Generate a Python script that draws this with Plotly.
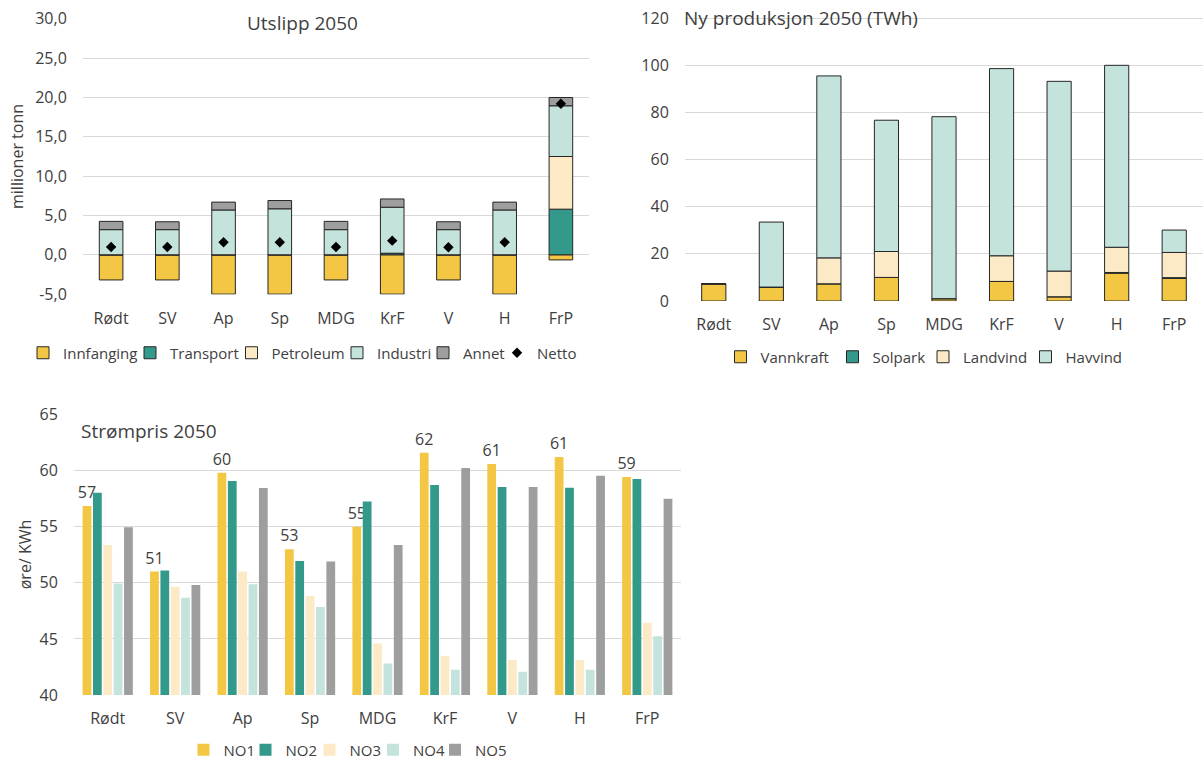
import numpy as np
import plotly.graph_objects as go

PARTIES = ["Rødt", "SV", "Ap", "Sp", "MDG", "KrF", "V", "H", "FrP"]

# --- Utslipp 2050 (millioner tonn)
INNFANGING = [-3.2, -3.2, -5.0, -5.0, -3.2, -5.0, -3.2, -5.0, -0.65]
TRANSPORT = [0, 0, 0, 0, 0, 0.2, 0, 0, 5.8]
PETROLEUM = [0, 0, 0, 0, 0, 0, 0, 0, 6.7]
INDUSTRI = [3.2, 3.2, 5.7, 5.85, 3.2, 5.85, 3.2, 5.7, 6.45]
ANNET = [1.05, 1.0, 1.0, 1.05, 1.05, 1.05, 1.0, 1.0, 1.05]
NETTO = [1.0, 1.0, 1.6, 1.6, 1.0, 1.8, 0.95, 1.6, 19.2]
Y1_TICKS = [-5, 0, 5, 10, 15, 20, 25, 30]
Y1_TICKTEXT = ["-5,0", "0,0", "5,0", "10,0", "15,0", "20,0", "25,0", "30,0"]

# --- Ny produksjon 2050 (TWh)
VANNKRAFT = [7.3, 5.9, 7.3, 10.0, 1.0, 8.3, 1.8, 11.8, 9.6]
SOLPARK = [0, 0, 0, 0, 0, 0, 0, 0.3, 0.3]
LANDVIND = [0, 0, 11.0, 11.0, 0, 10.9, 10.9, 10.7, 10.7]
HAVVIND = [0, 27.6, 77.2, 55.7, 77.2, 79.4, 80.5, 77.2, 9.5]
Y2_TICKS = [0, 20, 40, 60, 80, 100, 120]

# --- Strømpris 2050 (øre/KWh)
NO1 = [56.85, 51.0, 59.82, 53.0, 55.0, 61.6, 60.6, 61.22, 59.43]
NO2 = [58.04, 51.1, 59.08, 51.95, 57.24, 58.72, 58.54, 58.48, 59.26]
NO3 = [53.37, 49.66, 51.0, 48.83, 44.58, 43.48, 43.12, 43.12, 46.45]
NO4 = [49.93, 48.68, 49.87, 47.85, 42.8, 42.26, 42.08, 42.26, 45.23]
NO5 = [54.95, 49.8, 58.45, 51.9, 53.37, 60.24, 58.54, 59.55, 57.5]
Y3_TICKS = [40, 45, 50, 55, 60, 65]

W, H = 1203, 760
FONT = "Open Sans"
TXT = "#404040"
GRID = "#D9D9D9"
OUTLINE = "#262626"
FS = 16
LFS = 15

C_YEL = "#F3C744"
C_TEAL = "#33998A"
C_BEIGE = "#FCE9C6"
C_LTEAL = "#C3E3DC"
C_GREY = "#9E9E9E"


def px_x(p):
    return p / W


def px_y(p):
    return 1 - p / H


fig = go.Figure()
legends = {}
legend_count = [0]


def new_legend(sym_center_x, center_y):
    legend_count[0] += 1
    key = "legend" if legend_count[0] == 1 else f"legend{legend_count[0]}"
    legends[key] = dict(orientation="h", x=px_x(sym_center_x - 23), y=px_y(center_y),
                        xanchor="left", yanchor="middle",
                        font=dict(family=FONT, size=LFS, color=TXT),
                        bgcolor="rgba(0,0,0,0)", borderwidth=0, visible=True)
    return key


# ---------- Chart 1: stacked emissions ----------
LEG1_Y = 353
fig.add_trace(go.Bar(x=PARTIES, y=INNFANGING, base=[0] * len(PARTIES), name="Innfanging",
                     marker=dict(color=C_YEL, line=dict(color=OUTLINE, width=1)),
                     width=0.42, xaxis="x", yaxis="y", showlegend=True,
                     legend=new_legend(46, LEG1_Y)))
pos_series = [("Transport", TRANSPORT, C_TEAL, 153), ("Petroleum", PETROLEUM, C_BEIGE, 254.5),
              ("Industri", INDUSTRI, C_LTEAL, 360), ("Annet", ANNET, C_GREY, 446)]
cum = np.zeros(len(PARTIES))
for name, vals, col, lx in pos_series:
    v = np.array(vals, dtype=float)
    fig.add_trace(go.Bar(x=PARTIES, y=v, base=cum.copy(), name=name,
                         marker=dict(color=col, line=dict(color=OUTLINE, width=1)),
                         width=0.42, xaxis="x", yaxis="y", showlegend=True,
                         legend=new_legend(lx, LEG1_Y)))
    cum = cum + v
fig.add_trace(go.Scatter(x=PARTIES, y=NETTO, mode="markers", name="Netto",
                         marker=dict(symbol="diamond", size=8, color="black"),
                         xaxis="x", yaxis="y", showlegend=True,
                         legend=new_legend(520, LEG1_Y)))

# ---------- Chart 2: stacked production ----------
LEG2_Y = 357
prod_series = [("Vannkraft", VANNKRAFT, C_YEL, 743.5), ("Solpark", SOLPARK, C_TEAL, 855.5),
               ("Landvind", LANDVIND, C_BEIGE, 946), ("Havvind", HAVVIND, C_LTEAL, 1048.5)]
cum = np.zeros(len(PARTIES))
for name, vals, col, lx in prod_series:
    v = np.array(vals, dtype=float)
    fig.add_trace(go.Bar(x=PARTIES, y=v, base=cum.copy(), name=name,
                         marker=dict(color=col, line=dict(color=OUTLINE, width=1)),
                         width=0.42, xaxis="x2", yaxis="y2", showlegend=True,
                         legend=new_legend(lx, LEG2_Y)))
    cum = cum + v

# ---------- Chart 3: grouped prices ----------
LEG3_Y = 750
price_series = [("NO1", NO1, C_YEL, 206.5), ("NO2", NO2, C_TEAL, 268.5),
                ("NO3", NO3, C_BEIGE, 332.5), ("NO4", NO4, C_LTEAL, 396),
                ("NO5", NO5, C_GREY, 458)]
pitch = 0.1536
bw = 0.13
for k, (name, vals, col, lx) in enumerate(price_series):
    kw = {}
    if name == "NO1":
        kw = dict(texttemplate="%{y:.0f}", textposition="outside", constraintext="none",
                  textfont=dict(family=FONT, size=FS, color=TXT), cliponaxis=False)
    fig.add_trace(go.Bar(x=PARTIES, y=vals, name=name, base=[0] * len(PARTIES),
                         marker=dict(color=col, line=dict(width=0)),
                         width=bw, offset=(k - 2) * pitch - bw / 2,
                         xaxis="x3", yaxis="y3", showlegend=True,
                         legend=new_legend(lx, LEG3_Y), **kw))

axis_common = dict(showline=False, zeroline=False, tickfont=dict(family=FONT, size=FS, color=TXT))
xcat = dict(axis_common, type="category", categoryorder="array", categoryarray=PARTIES,
            range=[-0.5, 8.5], showgrid=False, ticks="outside", ticklen=9,
            tickcolor="rgba(0,0,0,0)")
ycommon = dict(axis_common, showgrid=True, gridcolor=GRID, gridwidth=1, ticks="outside",
               ticklen=12, tickcolor="rgba(0,0,0,0)")

fig.update_layout(
    width=W, height=H,
    margin=dict(l=0, r=0, t=0, b=0, autoexpand=False),
    paper_bgcolor="white", plot_bgcolor="white",
    barmode="overlay",
    showlegend=True,
    font=dict(family=FONT, size=FS, color=TXT),
    xaxis=dict(xcat, domain=[px_x(83), px_x(589)], anchor="y"),
    yaxis=dict(ycommon, domain=[px_y(294.5), px_y(18.5)], anchor="x", range=[-5.05, 30.05],
               tickvals=Y1_TICKS, ticktext=Y1_TICKTEXT,
               title=dict(text="millioner tonn", font=dict(family=FONT, size=FS, color=TXT), standoff=7)),
    xaxis2=dict(xcat, domain=[px_x(685), 1.0], anchor="y2"),
    yaxis2=dict(ycommon, domain=[px_y(301), px_y(17)], anchor="x2", range=[0, 120.5],
                tickvals=Y2_TICKS),
    xaxis3=dict(xcat, domain=[px_x(74), px_x(681)], anchor="y3"),
    yaxis3=dict(ycommon, domain=[px_y(695), px_y(414)], anchor="x3", range=[40, 65.05],
                tickvals=Y3_TICKS,
                title=dict(text="øre/ KWh", font=dict(family=FONT, size=FS, color=TXT), standoff=3)),
    annotations=[
        dict(text="Utslipp 2050", x=px_x(302), y=px_y(23), xref="paper", yref="paper",
             xanchor="center", yanchor="middle", showarrow=False,
             font=dict(family=FONT, size=19, color=TXT)),
        dict(text="Ny produksjon 2050 (TWh)", x=px_x(682), y=px_y(18), xref="paper", yref="paper",
             xanchor="left", yanchor="middle", showarrow=False,
             font=dict(family=FONT, size=19, color=TXT)),
        dict(text="Strømpris 2050", x=px_x(79), y=px_y(431), xref="paper", yref="paper",
             xanchor="left", yanchor="middle", showarrow=False,
             font=dict(family=FONT, size=19, color=TXT)),
    ],
)
fig.update_layout(**legends)

fig.write_html("out.html")
